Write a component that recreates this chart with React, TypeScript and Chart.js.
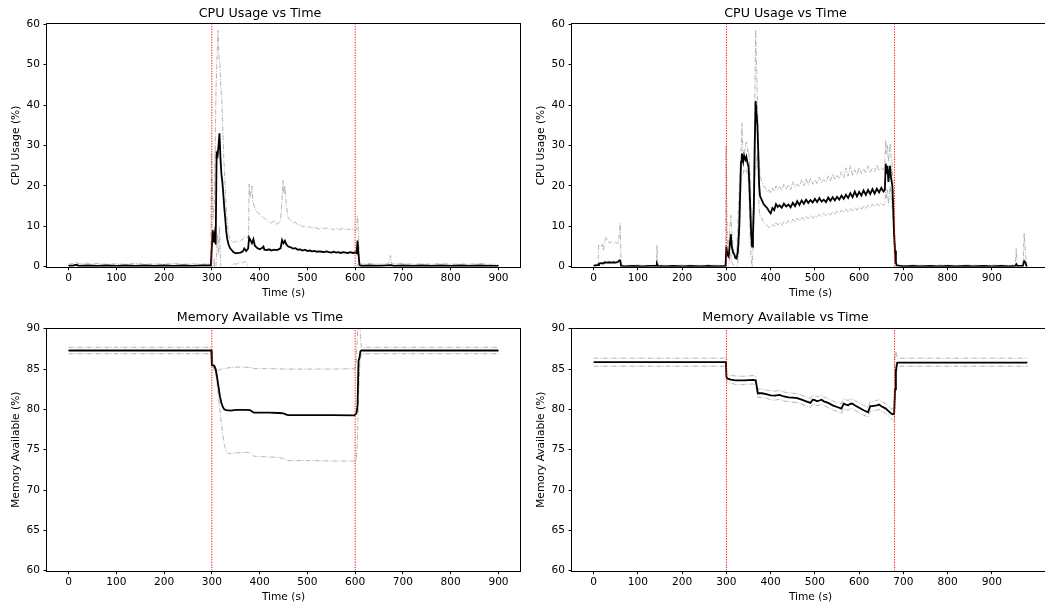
import React, { useEffect, useRef } from "react";
import { Chart, registerables } from "chart.js";
Chart.register(...registerables);

type Pt = [number, number];

// ---------- shared ticks ----------
const timeTicks = [0, 100, 200, 300, 400, 500, 600, 700, 800, 900];
const cpuTicks = [0, 10, 20, 30, 40, 50, 60];
const memTicks = [60, 65, 70, 75, 80, 85, 90];

// ---------- run A (left column) ----------
const eventsA = [300, 600];
const cpuMeanA: Pt[] = [
  [0,0.2],[10,0.3],[18,0.5],[20,0.2],[40,0.3],[60,0.2],[80,0.3],[100,0.2],[120,0.3],[140,0.2],[160,0.3],[180,0.2],[200,0.3],[220,0.2],[240,0.3],[260,0.2],[280,0.3],[298,0.3],
  [300,5],[302,9],[304,6],[306,8],[308,5.5],[310,28],[312,27.5],[314,30],[316,33],[318,27],[320,23],[322,21],[324,18],[326,14.7],[328,12],[330,9],[332,7],[335,5.5],[338,4.6],[341,4.2],[345,3.6],[350,3.3],[355,3.4],[360,3.5],[365,3.8],[368,4.5],[372,3.9],[376,4.5],[378,7.2],[381,6.5],[384,5.8],[387,6.8],[390,5.2],[395,4.6],[400,4.3],[405,4.6],[408,5.0],[410,4.2],[415,4.1],[420,4.3],[425,4.0],[430,4.2],[435,4.1],[440,4.3],[444,4.6],[447,6.6],[450,5.8],[453,6.4],[456,5.5],[460,5.0],[465,4.8],[470,4.5],[475,4.6],[480,4.2],[485,4.3],[490,4.0],[495,4.2],[500,3.9],[505,4.0],[510,3.8],[515,3.9],[520,3.7],[525,3.8],[530,3.7],[535,3.6],[540,3.8],[545,3.6],[550,3.5],[555,3.7],[560,3.5],[565,3.6],[570,3.4],[575,3.6],[580,3.5],[585,3.4],[590,3.6],[595,3.4],[600,3.5],[603,3.3],[605,6.5],[607,3],[609,0.5],[612,0.2],[630,0.3],[650,0.2],[675,0.4],[680,0.2],[700,0.3],[720,0.2],[740,0.3],[760,0.2],[780,0.3],[800,0.2],[820,0.3],[840,0.2],[860,0.3],[880,0.2],[900,0.2],
];
const cpuUpperA: Pt[] = [
  [0,0.6],[10,0.8],[18,1.2],[20,0.7],[40,0.9],[50,0.6],[60,0.8],[80,0.6],[100,0.7],[120,0.6],[140,0.8],[160,0.6],[180,0.7],[200,0.6],[220,0.8],[240,0.6],[260,0.7],[280,0.6],[298,0.8],
  [299,28],[301,20],[303,12],[305,15],[307,30],[309,45],[311,52],[313,58.5],[315,52],[317,50],[319,44],[321,41],[323,34],[325,27],[327,22],[329,17],[331,13],[334,9],[337,7],[340,6.5],[345,6.0],[350,6.3],[355,6.0],[360,6.5],[365,6.8],[370,7.5],[374,7.0],[377,8],[378,20.5],[380,17],[382,18.5],[384,20],[386,16],[390,14.5],[395,13.5],[400,13],[405,12.3],[410,12],[415,11.5],[420,11],[425,10.8],[430,11.5],[435,10.5],[440,10.8],[444,11.5],[447,17],[449,21.3],[451,18],[453,20],[456,15],[460,12],[465,11.5],[470,10.8],[475,11],[480,10.3],[485,10.5],[490,9.8],[495,10.1],[500,9.7],[505,10],[510,9.4],[515,9.8],[520,9.5],[525,9.3],[530,9.7],[535,9.4],[540,9.6],[545,9.2],[550,9.5],[555,9.1],[560,9.6],[565,9.2],[570,9.3],[575,9.5],[580,9.0],[585,9.4],[590,9.1],[595,9.3],[600,8.9],[603,9.2],[605,12.5],[607,8],[609,1],[612,0.6],[630,0.8],[650,0.6],[670,0.7],[674,2.8],[676,0.7],[700,0.8],[720,0.6],[740,0.7],[760,0.6],[780,0.8],[800,0.6],[820,0.7],[840,0.6],[860,0.8],[880,0.6],[900,0.6],
];
const cpuLowerA: Pt[] = [
  [0,-0.3],[298,-0.3],[299,-10],[303,-1],[305,2],[307,-5],[310,4],[312,8],[314,3],[316,10],[318,2],[320,-3],[330,-2],[338,-0.5],[342,0.3],[345,0.8],[350,0.6],[355,0.9],[360,1.1],[365,1.0],[370,1.3],[374,0.7],[376,-1],[380,-5],[390,-4],[400,-3],[420,-2.5],[445,-2],[450,-8],[460,-2],[500,-1.8],[550,-2],[600,-1.9],[605,0.5],[609,-0.2],[612,-0.3],[900,-0.3],
];
const memMeanA: Pt[] = [
  [0,87.3],[299,87.3],[300,85.5],[305,85.4],[308,85],[311,84],[314,82.8],[317,81.6],[320,80.8],[323,80.3],[326,80.0],[330,79.9],[340,79.85],[350,79.95],[370,79.95],[380,79.9],[384,79.75],[388,79.6],[400,79.6],[420,79.6],[440,79.55],[450,79.5],[456,79.35],[460,79.3],[500,79.3],[550,79.3],[598,79.25],[601,79.4],[603,79.6],[605,80.5],[607,86.0],[609,86.4],[611,87.2],[613,87.3],[900,87.3],
];
const memUpperA: Pt[] = [
  [0,87.7],[299,87.7],[300,86.5],[302,85.8],[305,84.8],[308,84.6],[312,84.8],[320,85.0],[330,85.1],[340,85.2],[360,85.25],[380,85.2],[390,85.05],[420,85.05],[450,85.0],[500,85.0],[550,85.0],[600,85.05],[602,86],[604,88],[606,91],[609,92],[611,89],[613,87.7],[900,87.7],
];
const memLowerA: Pt[] = [
  [0,86.9],[299,86.9],[300,86.5],[302,86],[305,85.2],[308,84.5],[311,83.2],[314,81.5],[317,79.8],[320,78.2],[323,76.8],[326,75.6],[330,74.8],[335,74.5],[350,74.6],[370,74.7],[380,74.6],[388,74.2],[400,74.15],[440,74.05],[450,73.9],[456,73.7],[460,73.65],[500,73.65],[550,73.6],[602,73.6],[604,75],[606,79],[608,83],[610,86],[613,86.9],[900,86.9],
];

// ---------- run B (right column) ----------
const eventsB = [300, 680];
const cpuMeanB: Pt[] = [
  [0,0.2],[5,0.3],[10,0.4],[12,0.8],[18,0.9],[22,0.8],[25,1.1],[30,1.0],[35,1.1],[40,1.0],[45,1.1],[50,1.0],[55,1.2],[58,1.6],[60,1.5],[62,0.2],[70,0.1],[90,0.2],[110,0.1],[130,0.2],[142,0.2],[143,0.7],[145,0.2],[160,0.1],[180,0.2],[200,0.1],[220,0.2],[240,0.1],[260,0.2],[280,0.1],[298,0.2],
  [300,5],[302,3],[305,2.5],[308,6],[310,8],[312,5],[315,3.5],[318,3],[320,2.2],[323,2],[326,4],[329,10],[331,18],[333,26],[335,28],[338,26],[340,27.5],[343,26.5],[345,27.2],[348,25.5],[350,24.8],[352,20],[354,14],[356,8],[358,5],[360,8],[362,15],[364,30],[366,41],[368,38],[370,35],[372,28],[374,20],[376,17.5],[380,16.5],[384,15.5],[388,15],[392,14.5],[396,13.8],[400,13.2],[404,14.5],[408,14],[412,15.5],[416,14.8],[420,15.2],[425,14.6],[430,15.6],[435,14.9],[440,15.4],[445,14.7],[450,15.8],[455,15.0],[460,16.2],[465,15.3],[470,16.4],[475,15.6],[480,16.6],[485,15.8],[490,16.5],[495,15.9],[500,16.8],[505,16.0],[510,17.0],[515,16.1],[520,16.6],[525,16.0],[530,17.1],[535,16.3],[540,17.2],[545,16.4],[550,17.3],[555,16.6],[560,17.6],[565,16.8],[570,17.8],[575,17.0],[580,18.2],[585,17.2],[590,18.6],[595,17.4],[600,18.5],[605,17.6],[610,18.9],[615,17.8],[620,19.0],[625,18.0],[630,19.2],[635,18.1],[640,19.3],[645,18.4],[650,19.5],[655,18.6],[658,19],[660,25.5],[662,23],[664,25],[666,21],[668,23],[670,25],[672,22],[675,20],[677,14],[679,8],[681,4],[683,1],[685,0.3],[700,0.1],[720,0.2],[740,0.1],[760,0.2],[780,0.1],[800,0.2],[820,0.1],[840,0.2],[860,0.1],[880,0.2],[900,0.1],[920,0.2],[940,0.1],[953,0.2],[955,0.6],[957,0.2],[970,0.2],[973,1.4],[976,1.0],[978,0.2],[980,0.2],
];
const cpuUpperB: Pt[] = [
  [0,0.5],[5,0.6],[10,0.7],[11,5.5],[15,5.0],[20,5.5],[22,4],[24,5.8],[28,7.3],[32,6.5],[36,5.8],[40,6.2],[45,5.8],[50,6.1],[55,5.6],[58,8],[60,10.7],[62,0.4],[70,0.3],[100,0.4],[130,0.3],[142,0.4],[143,5.3],[145,0.4],[170,0.3],[200,0.4],[230,0.3],[260,0.4],[298,0.3],
  [299,30],[301,12],[303,5],[306,7],[308,10],[310,12.7],[312,9],[315,5],[318,3],[321,2],[324,5],[327,14],[330,22],[333,28],[335,35.5],[337,29],[340,27.5],[343,30],[345,30.9],[348,28.5],[350,29],[352,26],[354,22],[356,12],[358,6],[360,12],[362,22],[364,40],[366,58.7],[368,50],[370,41],[372,33],[374,26],[376,22.5],[380,21],[384,20],[388,19.5],[392,18.5],[396,19],[400,18.2],[404,19.5],[408,18.6],[412,20],[416,19],[420,19.8],[425,18.8],[430,20.5],[435,19.3],[440,20.2],[445,19.0],[450,21],[455,19.6],[460,20.5],[465,19.8],[470,21.5],[475,20.0],[480,21.8],[485,20.2],[490,22],[495,20.4],[500,21.5],[505,20.6],[510,22.2],[515,20.8],[520,21.6],[525,20.9],[530,22.5],[535,21.2],[540,23],[545,21.5],[550,22.6],[555,21.8],[560,23.5],[565,22],[570,24.5],[575,22.4],[580,25],[585,22.6],[590,24],[595,22.8],[600,24.6],[605,23],[610,24.2],[615,23.2],[620,25],[625,23.4],[630,24.5],[635,23.6],[640,25.2],[645,23.8],[650,24.5],[655,24],[658,25],[660,31.4],[662,28],[664,30],[666,26],[668,28],[670,30.5],[672,27],[675,25],[677,18],[679,12],[681,6],[683,2],[685,0.4],[700,0.3],[730,0.4],[760,0.3],[790,0.4],[820,0.3],[850,0.4],[880,0.3],[910,0.4],[940,0.3],[953,0.4],[955,4.5],[957,0.4],[970,0.3],[973,8.3],[976,3],[978,0.3],[980,0.3],
];
const cpuLowerB: Pt[] = [
  [0,-0.2],[10,-0.2],[11,-3],[60,-3],[62,-0.2],[298,-0.2],[299,-5],[302,-1],[305,0.5],[308,2],[310,3.5],[312,1],[315,0.5],[318,-1],[322,-0.5],[326,1],[329,6],[331,12],[333,22],[335,22.5],[338,23],[340,24],[343,23.5],[345,24],[348,22.8],[350,21],[352,14],[354,6],[356,2],[358,-0.5],[360,4],[362,10],[364,22],[366,24],[368,26],[370,28],[372,22],[374,14],[376,12.5],[380,12],[384,11],[388,10.6],[392,10.2],[396,9.6],[400,9.8],[404,10.5],[408,9.9],[412,11],[416,10.3],[420,10.9],[425,10.2],[430,11.2],[435,10.6],[440,11.4],[445,10.8],[450,11.8],[455,11],[460,12],[465,11.3],[470,12.3],[475,11.6],[480,12.5],[485,11.8],[490,12.7],[495,12],[500,12.6],[505,12.2],[510,13],[515,12.4],[520,13.2],[525,12.6],[530,13.3],[535,12.8],[540,13.6],[545,13],[550,13.8],[555,13.2],[560,14],[565,13.4],[570,14.3],[575,13.6],[580,14.5],[585,13.8],[590,14.7],[595,14],[600,14.9],[605,14.2],[610,15.1],[615,14.4],[620,15.2],[625,14.6],[630,15.5],[635,14.8],[640,15.6],[645,15],[650,15.8],[655,15.2],[658,15.5],[660,19.5],[662,17],[664,19],[666,15.5],[668,18],[670,20],[672,17],[675,15],[677,10],[679,4],[681,1],[683,-0.5],[685,-0.2],[980,-0.2],
];
const memMeanB: Pt[] = [
  [0,85.85],[299,85.85],[300,84.0],[303,83.8],[310,83.7],[320,83.6],[340,83.6],[360,83.65],[366,83.6],[368,83.0],[371,82.0],[380,82.0],[390,81.9],[400,81.75],[410,81.7],[420,81.8],[430,81.6],[440,81.5],[450,81.45],[460,81.4],[470,81.2],[480,81.0],[490,80.8],[495,81.2],[500,81.15],[505,81.0],[510,81.1],[515,81.2],[520,81.0],[530,80.8],[540,80.5],[550,80.3],[560,80.1],[565,80.7],[570,80.6],[575,80.5],[580,80.7],[585,80.7],[590,80.5],[600,80.2],[610,79.9],[620,79.65],[625,80.4],[630,80.4],[640,80.5],[645,80.6],[650,80.4],[660,80.1],[670,79.6],[675,79.4],[679,79.45],[681,82.5],[683,84.8],[686,85.8],[980,85.8],
];
const memUpperB: Pt[] = [
  [0,86.35],[299,86.35],[300,84.4],[303,84.3],[310,84.2],[320,84.15],[340,84.1],[360,84.2],[366,84.1],[368,83.5],[371,82.5],[380,82.55],[390,82.4],[400,82.3],[410,82.25],[420,82.35],[430,82.15],[440,82.05],[450,82.0],[460,81.95],[470,81.75],[480,81.55],[490,81.35],[495,81.8],[500,81.7],[505,81.55],[510,81.65],[515,81.75],[520,81.55],[530,81.35],[540,81.05],[550,80.85],[560,80.7],[565,81.3],[570,81.2],[575,81.1],[580,81.3],[585,81.3],[590,81.1],[600,80.8],[610,80.5],[620,80.25],[625,81.0],[630,81.0],[640,81.1],[645,81.2],[650,81.0],[660,80.7],[670,80.2],[675,80.0],[679,80.3],[681,86.5],[683,87.2],[686,86.35],[980,86.35],
];
const memLowerB: Pt[] = [
  [0,85.35],[299,85.35],[300,83.6],[303,83.35],[310,83.25],[320,83.1],[340,83.1],[360,83.15],[366,83.1],[368,82.5],[371,81.5],[380,81.45],[390,81.4],[400,81.2],[410,81.15],[420,81.25],[430,81.05],[440,80.95],[450,80.9],[460,80.85],[470,80.65],[480,80.45],[490,80.25],[495,80.65],[500,80.6],[505,80.45],[510,80.55],[515,80.65],[520,80.45],[530,80.25],[540,79.95],[550,79.75],[560,79.5],[565,80.1],[570,80.0],[575,79.9],[580,80.1],[585,80.1],[590,79.9],[600,79.6],[610,79.3],[620,79.05],[625,79.8],[630,79.8],[640,79.9],[645,80.0],[650,79.8],[660,79.5],[670,79.0],[675,78.7],[679,78.5],[681,80.5],[683,83.5],[686,85.35],[980,85.35],
];

// ---------- panel configuration ----------
type Panel = {
  title: string; yLabel: string;
  mean: Pt[]; upper: Pt[]; lower: Pt[]; events: number[];
  yTicks: number[];
  left: number; top: number; width: number; height: number;
  yAxisWidth: number; padRight: number;
  titlePadTop: number; titlePadBottom: number;
  xAxisHeight: number; xTitlePadBottom: number; yTitlePadTop: number;
};

const FONT = "'DejaVu Sans', sans-serif";

const panels: Panel[] = [
  { title: "CPU Usage vs Time", yLabel: "CPU Usage (%)", mean: cpuMeanA, upper: cpuUpperA, lower: cpuLowerA, events: eventsA, yTicks: cpuTicks,
    left: 0, top: 0, width: 522, height: 303, yAxisWidth: 47, padRight: 2, titlePadTop: 5.7, titlePadBottom: 3.4, xAxisHeight: 36.3, xTitlePadBottom: 3.3, yTitlePadTop: 9.7 },
  { title: "CPU Usage vs Time", yLabel: "CPU Usage (%)", mean: cpuMeanB, upper: cpuUpperB, lower: cpuLowerB, events: eventsB, yTicks: cpuTicks,
    left: 522, top: 0, width: 538, height: 303, yAxisWidth: 50, padRight: 11, titlePadTop: 5.7, titlePadBottom: 3.4, xAxisHeight: 36.3, xTitlePadBottom: 3.3, yTitlePadTop: 12.7 },
  { title: "Memory Available vs Time", yLabel: "Memory Available (%)", mean: memMeanA, upper: memUpperA, lower: memLowerA, events: eventsA, yTicks: memTicks,
    left: 0, top: 303, width: 522, height: 304, yAxisWidth: 47, padRight: 2, titlePadTop: 7.1, titlePadBottom: 3.4, xAxisHeight: 36.3, xTitlePadBottom: 2.9, yTitlePadTop: 9.7 },
  { title: "Memory Available vs Time", yLabel: "Memory Available (%)", mean: memMeanB, upper: memUpperB, lower: memLowerB, events: eventsB, yTicks: memTicks,
    left: 522, top: 303, width: 538, height: 304, yAxisWidth: 50, padRight: 11, titlePadTop: 7.1, titlePadBottom: 3.4, xAxisHeight: 36.3, xTitlePadBottom: 2.9, yTitlePadTop: 12.7 },
];

const framePlugin = {
  id: "frame",
  afterDatasetsDraw(chart: any) {
    const { ctx, chartArea } = chart;
    const { left, top, right, bottom } = chartArea;
    ctx.save();
    ctx.strokeStyle = "#000";
    ctx.lineWidth = 1;
    ctx.strokeRect(Math.round(left) - 0.5, Math.round(top) - 0.5, Math.round(right) - Math.round(left) + 1, Math.round(bottom) - Math.round(top) + 1);
    ctx.restore();
  },
};

const toXY = (arr: Pt[]) => arr.map(([x, y]) => ({ x, y }));

function PanelChart({ p }: { p: Panel }) {
  const ref = useRef<HTMLCanvasElement | null>(null);
  useEffect(() => {
    if (!ref.current) return;
    const allX = p.mean.map((d) => d[0]);
    const dMin = Math.min(...allX);
    const dMax = Math.max(...allX);
    const margin = (dMax - dMin) * 0.05;
    const yMin = p.yTicks[0];
    const yMax = p.yTicks[p.yTicks.length - 1];

    const eventSets = p.events.map((t) => ({
      data: [{ x: t, y: yMin }, { x: t, y: yMax }],
      borderColor: "#ff0000",
      borderWidth: 1,
      borderDash: [1.2, 1.4],
      pointRadius: 0,
      tension: 0,
    }));

    const chart = new Chart(ref.current, {
      type: "line",
      data: {
        datasets: [
          ...eventSets,
          { data: toXY(p.mean), borderColor: "#000000", borderWidth: 1.8, pointRadius: 0, tension: 0 },
          { data: toXY(p.upper), borderColor: "#b5b5b5", borderWidth: 1, borderDash: [5, 1.5, 1, 1.5], pointRadius: 0, tension: 0 },
          { data: toXY(p.lower), borderColor: "#b5b5b5", borderWidth: 1, borderDash: [5, 1.5, 1, 1.5], pointRadius: 0, tension: 0 },
        ] as any,
      },
      options: {
        responsive: false,
        animation: false,
        events: [],
        devicePixelRatio: 1,
        layout: { padding: { left: 0, right: p.padRight, top: 0, bottom: 0 } },
        plugins: {
          legend: { display: false },
          tooltip: { enabled: false },
          title: {
            display: true,
            text: p.title,
            color: "#000",
            font: { family: FONT, size: 12.7, weight: "normal", lineHeight: 1.2 },
            padding: { top: p.titlePadTop, bottom: p.titlePadBottom },
          },
        },
        scales: {
          x: {
            type: "linear",
            min: dMin - margin,
            max: dMax + margin,
            afterBuildTicks: (s: any) => { s.ticks = timeTicks.map((v) => ({ value: v })); },
            afterFit: (s: any) => { s.height = p.xAxisHeight; },
            grid: { display: true, drawOnChartArea: false, drawTicks: true, tickLength: 3.5, color: "#000", lineWidth: 1 },
            border: { display: false },
            ticks: { color: "#000", font: { family: FONT, size: 10.6 }, padding: 2, maxRotation: 0, autoSkip: false },
            title: { display: true, text: "Time (s)", color: "#000", font: { family: FONT, size: 10.6, lineHeight: 1.2 }, padding: { top: 0, bottom: p.xTitlePadBottom } },
          },
          y: {
            type: "linear",
            min: yMin,
            max: yMax,
            afterBuildTicks: (s: any) => { s.ticks = p.yTicks.map((v) => ({ value: v })); },
            afterFit: (s: any) => { s.width = p.yAxisWidth; },
            grid: { display: true, drawOnChartArea: false, drawTicks: true, tickLength: 3.5, color: "#000", lineWidth: 1 },
            border: { display: false },
            ticks: { color: "#000", font: { family: FONT, size: 10.6 }, padding: 3.5, autoSkip: false },
            title: { display: true, text: p.yLabel, color: "#000", font: { family: FONT, size: 10.6, lineHeight: 1.2 }, padding: { top: p.yTitlePadTop, bottom: 0 } },
          },
        },
      } as any,
      plugins: [framePlugin],
    });
    return () => chart.destroy();
  }, [p]);
  return (
    <canvas
      ref={ref}
      width={p.width}
      height={p.height}
      style={{ position: "absolute", left: p.left, top: p.top, width: p.width, height: p.height }}
    />
  );
}

export default function App() {
  return (
    <div style={{ position: "fixed", left: 0, top: 0, width: 1045, height: 607, overflow: "hidden", background: "#fff" }}>
      {panels.map((p, i) => (
        <PanelChart key={i} p={p} />
      ))}
    </div>
  );
}
